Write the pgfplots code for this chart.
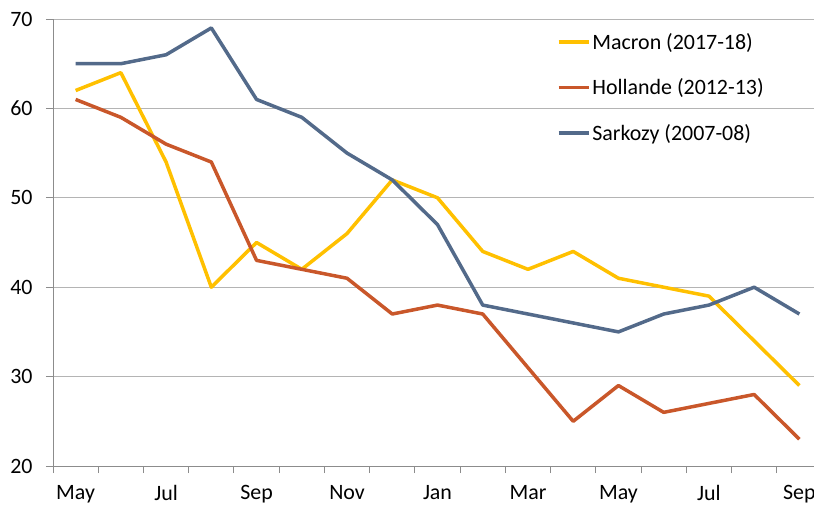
\documentclass[border=0pt]{standalone}
\usepackage{pgfplots}
\pgfplotsset{compat=1.18}
\usepackage{fontspec}
\setmainfont{Carlito}
\definecolor{cMac}{HTML}{FFC000}
\definecolor{cHol}{HTML}{C9572A}
\definecolor{cSar}{HTML}{536A8A}
\definecolor{cGrid}{HTML}{B4B4B4}
\definecolor{cAx}{HTML}{8C8C8C}
\begin{document}
\begin{tikzpicture}
\begin{axis}[
  at={(0bp,0bp)}, anchor=south west,
  scale only axis, width=769bp, height=447bp,
  xmin=-0.5, xmax=16.5, ymin=20, ymax=70,
  axis x line*=bottom, axis y line*=left,
  axis line style={cAx, line width=0.9bp},
  ytick={20,30,...,70},
  ymajorgrids, grid style={cGrid, line width=0.9bp},
  xtick={-0.5,0.5,...,16.5}, xticklabels={},
  extra x ticks={0,2,...,16},
  extra x tick labels={May,Jul,Sep,Nov,Jan,Mar,May,Jul,Sep},
  extra x tick style={major tick length=0pt, grid=none},
  tick align=outside, major tick length=7bp,
  tick style={cAx, line width=0.9bp},
  tick label style={font=\fontsize{22}{24}\selectfont, text=black},
  /pgf/number format/assume math mode=true,
  xticklabel style={yshift=-16bp},
  yticklabel style={xshift=-10bp},
  legend style={draw=none, fill=none, at={(0.655,0.978)}, anchor=north west,
    font=\fontsize{22}{24}\selectfont, row sep=24bp, inner xsep=0pt},
  legend cell align=left,
  legend image code/.code={\draw[#1, line width=3.5bp] (0bp,0bp) -- (30bp,0bp);},
  every axis plot/.append style={line width=3.5bp, line join=round},
]
\addplot[cMac, mark=none] coordinates {(0,62)(1,64)(2,54)(3,40)(4,45)(5,42)(6,46)(7,52)(8,50)(9,44)(10,42)(11,44)(12,41)(13,40)(14,39)(15,34)(16,29)};
\addlegendentry{Macron (2017-18)}
\addplot[cHol, mark=none] coordinates {(0,61)(1,59)(2,56)(3,54)(4,43)(5,42)(6,41)(7,37)(8,38)(9,37)(10,31)(11,25)(12,29)(13,26)(14,27)(15,28)(16,23)};
\addlegendentry{Hollande (2012-13)}
\addplot[cSar, mark=none] coordinates {(0,65)(1,65)(2,66)(3,69)(4,61)(5,59)(6,55)(7,52)(8,47)(9,38)(10,37)(11,36)(12,35)(13,37)(14,38)(15,40)(16,37)};
\addlegendentry{Sarkozy (2007-08)}
\end{axis}
\pgfresetboundingbox
\useasboundingbox (-53bp,-43bp) rectangle (761bp,466bp);
\end{tikzpicture}
\end{document}
